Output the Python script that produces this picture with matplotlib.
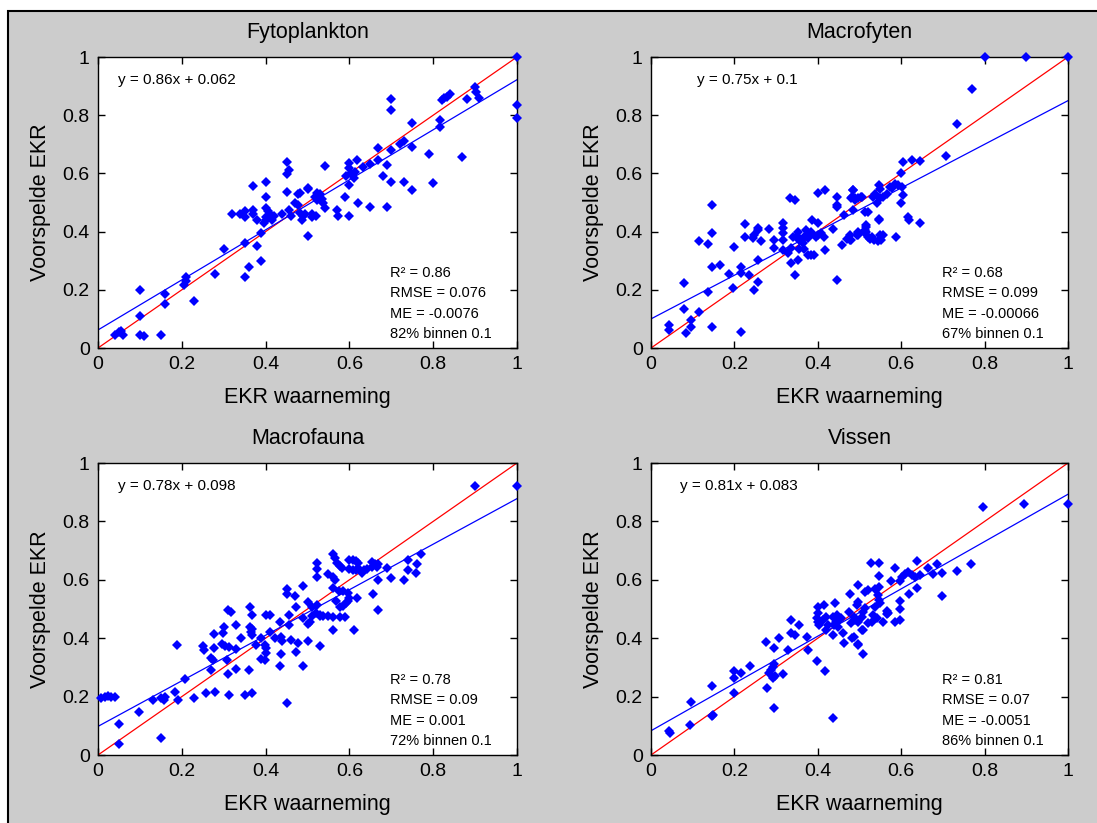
import numpy as np
import matplotlib
matplotlib.use('Agg')
import matplotlib.pyplot as plt
from matplotlib.patches import Rectangle

plt.rcParams['font.family'] = ['Liberation Sans', 'DejaVu Sans']

# EKR observed (x) vs predicted (y) per quality element
fyto_x = [0.05, 0.04, 0.06, 0.055, 0.10, 0.10, 0.10, 0.11, 0.15, 0.16, 0.16,
          0.21, 0.21, 0.205, 0.23, 0.28, 0.30, 0.32, 0.34, 0.35, 0.35, 0.37, 0.37, 0.37,
          0.35, 0.35, 0.36, 0.38, 0.38, 0.39, 0.40, 0.40, 0.395, 0.40, 0.405, 0.41, 0.42,
          0.40, 0.415, 0.40, 0.39, 0.45, 0.452, 0.457, 0.45, 0.44, 0.455, 0.46, 0.477,
          0.47, 0.477, 0.50, 0.50, 0.495, 0.51, 0.52, 0.487, 0.51, 0.517,
          0.482, 0.502, 0.522, 0.53, 0.522, 0.534, 0.537, 0.542, 0.482, 0.49,
          0.542, 0.57, 0.572, 0.59, 0.60, 0.598, 0.60, 0.605, 0.593, 0.613, 0.618, 0.60,
          0.61, 0.62, 0.633, 0.649, 0.649, 0.669, 0.669, 0.68, 0.69, 0.69, 0.70, 0.70,
          0.70, 0.70, 0.72, 0.73, 0.73, 0.75, 0.75, 0.75, 0.79, 0.80, 0.816, 0.816,
          0.82, 0.826, 0.832, 0.84, 0.869, 0.88, 0.90, 0.902, 0.91, 1.0, 1.0, 1.0]
fyto_y = [0.055, 0.045, 0.045, 0.06, 0.20, 0.11, 0.045, 0.04, 0.045, 0.185, 0.15,
          0.245, 0.23, 0.215, 0.16, 0.255, 0.34, 0.46, 0.46, 0.47, 0.45, 0.46, 0.475, 0.555,
          0.36, 0.245, 0.28, 0.35, 0.44, 0.30, 0.57, 0.52, 0.43, 0.45, 0.47, 0.46, 0.455,
          0.48, 0.44, 0.44, 0.395, 0.64, 0.598, 0.61, 0.537, 0.46, 0.475, 0.455, 0.53,
          0.50, 0.49, 0.548, 0.385, 0.46, 0.46, 0.455, 0.44, 0.45, 0.52,
          0.532, 0.549, 0.532, 0.528, 0.507, 0.512, 0.50, 0.482, 0.463, 0.455,
          0.625, 0.475, 0.455, 0.52, 0.455, 0.635, 0.617, 0.60, 0.59, 0.605, 0.645, 0.56,
          0.585, 0.497, 0.623, 0.632, 0.485, 0.646, 0.688, 0.59, 0.63, 0.485, 0.57, 0.68,
          0.818, 0.856, 0.70, 0.71, 0.57, 0.69, 0.543, 0.772, 0.665, 0.566, 0.76, 0.783,
          0.852, 0.858, 0.863, 0.872, 0.655, 0.854, 0.897, 0.88, 0.86, 1.0, 0.835, 0.79]

mfyt_x = [0.044, 0.044, 0.084, 0.096, 0.096, 0.078, 0.078, 0.116, 0.116, 0.136, 0.146,
          0.146, 0.146, 0.166, 0.136, 0.146, 0.188, 0.198, 0.196, 0.216, 0.216, 0.216,
          0.225, 0.225, 0.236, 0.246, 0.256, 0.256, 0.244, 0.248, 0.256, 0.256, 0.264,
          0.284, 0.296, 0.296, 0.316, 0.316, 0.316, 0.316, 0.316, 0.334, 0.346, 0.328,
          0.336, 0.352, 0.346, 0.352, 0.35, 0.356, 0.364, 0.368, 0.376, 0.38, 0.384,
          0.372, 0.34, 0.336, 0.356, 0.368, 0.376, 0.384, 0.392, 0.386, 0.40, 0.417,
          0.40, 0.40, 0.396, 0.408, 0.416, 0.417, 0.436, 0.445, 0.445, 0.445, 0.446,
          0.457, 0.464, 0.47, 0.48, 0.484, 0.48, 0.49, 0.504, 0.484, 0.496, 0.496, 0.516,
          0.516, 0.524, 0.52,
          0.8, 0.9, 1.0, 0.77, 0.735, 0.707, 0.605, 0.625, 0.645, 0.599, 0.573, 0.585,
          0.593, 0.601, 0.579, 0.547, 0.549, 0.565, 0.557, 0.549, 0.537, 0.532, 0.541,
          0.485, 0.481, 0.489, 0.505, 0.497, 0.605, 0.599, 0.513, 0.547, 0.547, 0.617,
          0.619, 0.645, 0.515, 0.513, 0.513, 0.497, 0.493, 0.477, 0.477, 0.521, 0.529,
          0.535, 0.549, 0.551, 0.545, 0.557, 0.587]
mfyt_y = [0.079, 0.062, 0.05, 0.073, 0.096, 0.133, 0.222, 0.122, 0.369, 0.356, 0.491,
          0.396, 0.28, 0.285, 0.194, 0.073, 0.254, 0.346, 0.207, 0.054, 0.28, 0.257,
          0.426, 0.38, 0.25, 0.20, 0.228, 0.302, 0.377, 0.388, 0.405, 0.414, 0.369,
          0.408, 0.371, 0.342, 0.428, 0.411, 0.394, 0.371, 0.337, 0.514, 0.508, 0.325,
          0.291, 0.302, 0.251, 0.40, 0.385, 0.37, 0.36, 0.383, 0.378, 0.39, 0.40,
          0.405, 0.38, 0.345, 0.34, 0.34, 0.318, 0.32, 0.32, 0.441, 0.531, 0.542,
          0.43, 0.388, 0.38, 0.394, 0.382, 0.337, 0.41, 0.52, 0.491, 0.483, 0.235,
          0.354, 0.456, 0.376, 0.371, 0.542, 0.514, 0.51, 0.519, 0.474, 0.388, 0.40, 0.417,
          0.40, 0.376, 0.466,
          1.0, 1.0, 1.0, 0.89, 0.769, 0.661, 0.64, 0.646, 0.643, 0.60, 0.554, 0.562,
          0.56, 0.554, 0.55, 0.56, 0.545, 0.53, 0.52, 0.515, 0.53, 0.52, 0.50,
          0.543, 0.52, 0.515, 0.52, 0.515, 0.525, 0.50, 0.468, 0.445, 0.44, 0.45,
          0.44, 0.43, 0.423, 0.405, 0.395, 0.395, 0.388, 0.388, 0.371, 0.38, 0.38,
          0.371, 0.388, 0.371, 0.366, 0.39, 0.383]

mfau_x = [0.008, 0.016, 0.024, 0.032, 0.041, 0.049, 0.049, 0.099, 0.131, 0.151, 0.158,
          0.159, 0.15, 0.183, 0.189, 0.191, 0.208, 0.229, 0.25, 0.253, 0.258, 0.27,
          0.275, 0.27, 0.278, 0.28, 0.278, 0.298, 0.30, 0.297, 0.302, 0.313, 0.31,
          0.318, 0.309, 0.31, 0.312, 0.33, 0.33, 0.33, 0.342, 0.35, 0.362, 0.36, 0.362,
          0.366, 0.368, 0.367, 0.368, 0.368, 0.378, 0.39, 0.398, 0.402, 0.40, 0.398,
          0.39, 0.402, 0.41, 0.41, 0.422, 0.434, 0.437, 0.44, 0.434, 0.437, 0.452,
          0.452, 0.452, 0.455, 0.457, 0.46, 0.47, 0.473, 0.477, 0.473, 0.49, 0.49,
          0.49, 0.50, 0.505, 0.50, 0.50, 0.52,
          0.90, 1.0, 0.56, 0.565, 0.57, 0.578, 0.582, 0.522, 0.522, 0.522, 0.55, 0.562,
          0.565, 0.60, 0.608, 0.616, 0.62, 0.60, 0.608, 0.616, 0.624, 0.635, 0.631,
          0.641, 0.653, 0.661, 0.665, 0.655, 0.669, 0.669, 0.69, 0.70, 0.73, 0.74,
          0.739, 0.761, 0.759, 0.77, 0.56, 0.575, 0.585, 0.597, 0.599, 0.593, 0.585,
          0.577, 0.569, 0.597, 0.619, 0.657, 0.669, 0.51, 0.522, 0.53, 0.51, 0.53,
          0.538, 0.55, 0.562, 0.578, 0.59, 0.56, 0.611, 0.53]
mfau_y = [0.194, 0.20, 0.202, 0.198, 0.20, 0.105, 0.037, 0.147, 0.189, 0.194, 0.189,
          0.20, 0.059, 0.216, 0.377, 0.189, 0.26, 0.194, 0.373, 0.36, 0.211, 0.333,
          0.327, 0.291, 0.367, 0.215, 0.416, 0.419, 0.439, 0.38, 0.373, 0.371, 0.497,
          0.49, 0.325, 0.276, 0.205, 0.445, 0.362, 0.294, 0.399, 0.205, 0.508, 0.291, 0.44,
          0.422, 0.41, 0.43, 0.479, 0.213, 0.377, 0.33, 0.325, 0.348, 0.365, 0.377,
          0.399, 0.48, 0.478, 0.422, 0.399, 0.456, 0.405, 0.39, 0.305, 0.345, 0.57,
          0.551, 0.177, 0.479, 0.445, 0.394, 0.544, 0.508, 0.382, 0.353, 0.58, 0.305,
          0.47, 0.448, 0.457, 0.524, 0.39, 0.485,
          0.92, 0.92, 0.687, 0.673, 0.657, 0.646, 0.641, 0.659, 0.636, 0.608, 0.619, 0.611,
          0.60, 0.667, 0.667, 0.665, 0.657, 0.636, 0.634, 0.634, 0.636, 0.634, 0.623,
          0.638, 0.66, 0.653, 0.644, 0.644, 0.655, 0.60, 0.641, 0.607, 0.601, 0.667,
          0.635, 0.653, 0.624, 0.687, 0.571, 0.56, 0.56, 0.555, 0.538, 0.521, 0.51,
          0.508, 0.528, 0.528, 0.538, 0.55, 0.496, 0.508, 0.514, 0.48, 0.476, 0.476,
          0.476, 0.476, 0.474, 0.474, 0.474, 0.428, 0.428, 0.373]

viss_x = [0.044, 0.046, 0.094, 0.096, 0.146, 0.148, 0.146, 0.198, 0.198, 0.198, 0.217,
          0.237, 0.276, 0.277, 0.282, 0.288, 0.292, 0.292, 0.297, 0.296, 0.296, 0.296,
          0.308, 0.316, 0.328, 0.336, 0.336, 0.346, 0.356, 0.374, 0.376, 0.397, 0.40,
          0.40, 0.398, 0.40, 0.404, 0.412, 0.42, 0.416, 0.424, 0.42, 0.417, 0.437,
          0.436, 0.442, 0.446, 0.452, 0.456, 0.444, 0.448, 0.436, 0.44, 0.46, 0.464,
          0.476, 0.477, 0.48, 0.488, 0.496, 0.496, 0.488, 0.481, 0.496, 0.508, 0.508,
          0.52, 0.52, 0.512,
          0.797, 0.895, 1.0, 0.767, 0.735, 0.697, 0.697, 0.686, 0.677, 0.665, 0.637,
          0.637, 0.645, 0.633, 0.625, 0.617, 0.609, 0.601, 0.597, 0.618, 0.585, 0.575,
          0.527, 0.547, 0.547, 0.537, 0.547, 0.545, 0.547, 0.549, 0.537, 0.533, 0.529,
          0.541, 0.556, 0.513, 0.493, 0.509, 0.505, 0.489, 0.497, 0.507, 0.497, 0.565,
          0.569, 0.585, 0.597, 0.597, 0.597, 0.565]
viss_y = [0.083, 0.074, 0.103, 0.18, 0.134, 0.137, 0.237, 0.211, 0.288, 0.265, 0.282,
          0.305, 0.388, 0.228, 0.28, 0.29, 0.30, 0.265, 0.272, 0.31, 0.16, 0.368,
          0.40, 0.277, 0.36, 0.462, 0.419, 0.411, 0.445, 0.405, 0.36, 0.322, 0.508,
          0.485, 0.468, 0.457, 0.445, 0.462, 0.474, 0.514, 0.445, 0.428, 0.286, 0.126,
          0.474, 0.52, 0.479, 0.462, 0.468, 0.457, 0.44, 0.411, 0.445, 0.419, 0.385,
          0.491, 0.55, 0.451, 0.474, 0.582, 0.525, 0.405, 0.402, 0.377, 0.345, 0.428,
          0.565, 0.451, 0.502,
          0.848, 0.86, 0.858, 0.653, 0.631, 0.622, 0.546, 0.653, 0.62, 0.641, 0.664,
          0.573, 0.615, 0.61, 0.615, 0.627, 0.62, 0.609, 0.597, 0.55, 0.641, 0.596,
          0.659, 0.659, 0.613, 0.57, 0.575, 0.548, 0.53, 0.519, 0.508, 0.479, 0.457,
          0.468, 0.457, 0.557, 0.513, 0.49, 0.473, 0.464, 0.456, 0.427, 0.379, 0.494,
          0.485, 0.454, 0.463, 0.5, 0.528, 0.483]

titles = ['Fytoplankton', 'Macrofyten', 'Macrofauna', 'Vissen']
slopes = [0.86, 0.75, 0.78, 0.81]
intercepts = [0.062, 0.1, 0.098, 0.083]
fit_labels = ['y = 0.86x + 0.062', 'y = 0.75x + 0.1', 'y = 0.78x + 0.098', 'y = 0.81x + 0.083']
r2 = ['0.86', '0.68', '0.78', '0.81']
rmse = ['0.076', '0.099', '0.09', '0.07']
me = ['-0.0076', '-0.00066', '0.001', '-0.0051']
within = ['82%', '67%', '72%', '86%']
xs = [fyto_x, mfyt_x, mfau_x, viss_x]
ys = [fyto_y, mfyt_y, mfau_y, viss_y]

W, H = 1097, 823
fig = plt.figure(figsize=(W / 100, H / 100), dpi=100, facecolor='white')
fig.patches.append(Rectangle((8 / W, -0.1), 1.2, 1.1 - 11 / H, transform=fig.transFigure,
                             facecolor='#cccccc', edgecolor='black', linewidth=1.5, zorder=-10))

# axes boxes in pixels: left, bottom(from top), width, height
boxes = [(98, 348, 419, 291), (651, 348, 417, 291), (98, 755, 419, 292), (651, 755, 417, 292)]
eq_x = [0.048, 0.11, 0.048, 0.07]

for i in range(4):
    l, b, w, h = boxes[i]
    ax = fig.add_axes([l / W, 1 - b / H, w / W, h / H])
    line = np.array([0, 1])
    ax.plot(line, line, color='red', lw=0.9, zorder=2)
    ax.plot(line, slopes[i] * line + intercepts[i], color='blue', lw=0.9, zorder=2)
    ax.plot(xs[i], ys[i], linestyle='none', marker='D', markersize=5.2,
            color='blue', markeredgewidth=0, clip_on=False, zorder=3)
    ax.set_xlim(0, 1)
    ax.set_ylim(0, 1)
    ticks = [0, 0.2, 0.4, 0.6, 0.8, 1]
    tick_labels = ['0', '0.2', '0.4', '0.6', '0.8', '1']
    ax.set_xticks(ticks)
    ax.set_xticklabels(tick_labels)
    ax.set_yticks(ticks)
    ax.set_yticklabels(tick_labels)
    ax.tick_params(direction='in', top=True, right=True, length=5, width=1,
                   labelsize=14, pad=6)
    for s in ax.spines.values():
        s.set_linewidth(1)
    ax.set_title(titles[i], fontsize=15.5, pad=14)
    ax.set_xlabel('EKR waarneming', fontsize=15.5, labelpad=10)
    ax.set_ylabel('Voorspelde EKR', fontsize=15.5, labelpad=8)
    ax.text(eq_x[i], 0.92, fit_labels[i], fontsize=11, va='center')
    stats = ['R² = ' + r2[i], 'RMSE = ' + rmse[i], 'ME = ' + me[i], within[i] + ' binnen 0.1']
    for k, s in enumerate(stats):
        ax.text(0.697, 0.258 - k * 0.07, s, fontsize=10.5, va='center')

fig.savefig('out.png', dpi=100, facecolor=fig.get_facecolor())
